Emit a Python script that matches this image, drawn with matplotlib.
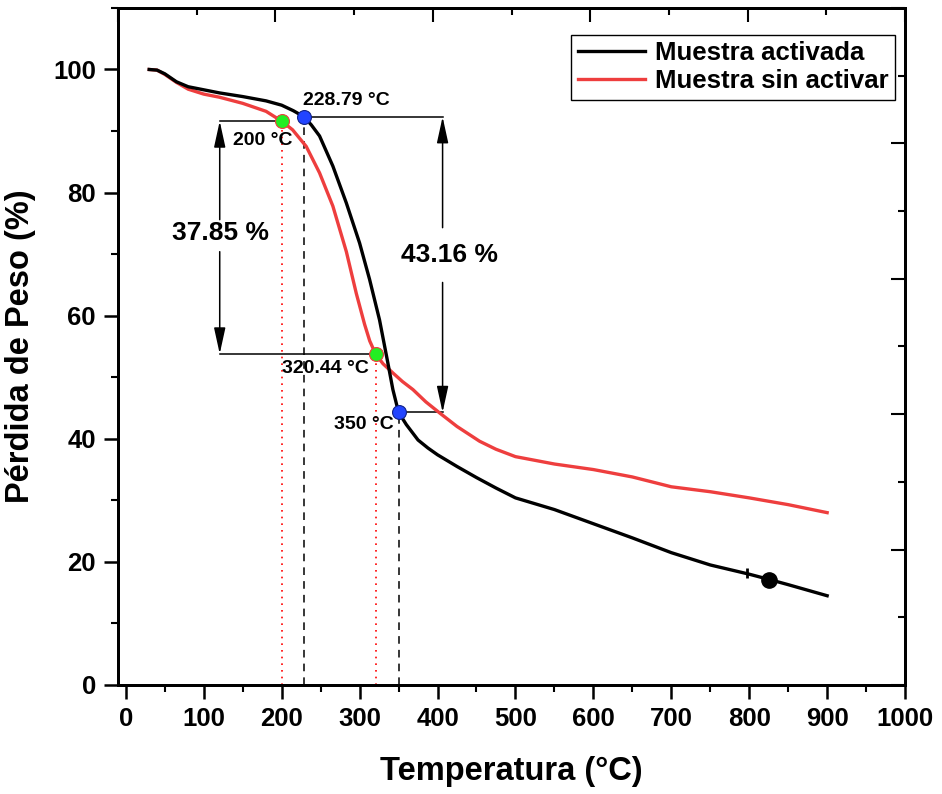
import numpy as np
import matplotlib.pyplot as plt
from matplotlib.ticker import MultipleLocator

plt.rcParams['font.family'] = ['Liberation Sans', 'DejaVu Sans']
plt.rcParams['font.weight'] = 'bold'
plt.rcParams['axes.labelweight'] = 'bold'

# TGA data
t_act = [30, 40, 50, 65, 80, 100, 120, 150, 180, 200, 215, 228.79, 238, 248.6, 265.7,
         283, 300, 312.8, 325.6, 336.3, 342.7, 350, 360, 375, 387.7, 400, 425, 450, 475,
         500, 550, 600, 650, 700, 750, 800, 827, 850, 900]
w_act = [100, 99.9, 99.3, 98.0, 97.2, 96.7, 96.2, 95.6, 94.9, 94.2, 93.3, 92.3, 91.0, 89.2, 84.3,
         78.3, 71.8, 65.9, 59.3, 52.3, 48.0, 44.3, 42.3, 39.8, 38.5, 37.4, 35.5, 33.7, 32.0,
         30.4, 28.5, 26.2, 23.9, 21.5, 19.5, 18.0, 17.1, 16.3, 14.5]

t_sin = [30, 40, 50, 65, 80, 100, 120, 150, 180, 200, 214, 231.5, 248.6, 265.7, 283,
         295.8, 306.4, 313, 320.44, 330, 342.7, 355, 368.4, 385, 402.7, 425, 454, 475,
         500, 550, 600, 650, 700, 750, 800, 850, 900]
w_sin = [100, 99.9, 99.2, 97.9, 96.8, 96.0, 95.5, 94.5, 93.2, 91.6, 90.2, 87.5, 83.2, 77.8, 70.4,
         63.6, 58.6, 55.9, 53.8, 52.2, 50.7, 49.3, 48.0, 46.0, 44.2, 42.0, 39.6, 38.3,
         37.1, 35.9, 35.0, 33.8, 32.2, 31.4, 30.4, 29.3, 28.0]

# onset / end points
act_pts_t = [228.79, 350]
act_pts_w = [92.3, 44.3]
sin_pts_t = [200, 320.44]
sin_pts_w = [91.6, 53.8]
loss_act = '43.16 %'
loss_sin = '37.85 %'

red = '#EE3E3E'

fig = plt.figure(figsize=(9.42, 7.94), dpi=100)
ax = fig.add_axes([0.1253, 0.1373, 0.8355, 0.8527])

ax.plot(t_act, w_act, color='black', lw=2.4, label='Muestra activada', solid_joinstyle='round', zorder=4)
ax.plot(t_sin, w_sin, color=red, lw=2.4, label='Muestra sin activar', solid_joinstyle='round', zorder=3)
ax.plot([825.5], [17.1], 'o', color='black', ms=11, zorder=5)
ax.plot([796.6], [18.2], '|', color='black', ms=7, mew=2, zorder=5)

# vertical guides
for t, w in zip(act_pts_t, act_pts_w):
    ax.plot([t, t], [0, w], color='black', lw=1.1, ls=(0, (5, 4)), zorder=2)
for t, w in zip(sin_pts_t, sin_pts_w):
    ax.plot([t, t], [0, w], color='red', lw=1.2, ls=(0, (1, 3)), zorder=2)

# horizontal guides
x_left = 120.5
x_right = 406.5
ax.plot([x_left, sin_pts_t[0]], [sin_pts_w[0]] * 2, color='black', lw=1.1, zorder=2)
ax.plot([x_left, sin_pts_t[1]], [sin_pts_w[1]] * 2, color='black', lw=1.1, zorder=2)
ax.plot([act_pts_t[0], x_right], [act_pts_w[0]] * 2, color='black', lw=1.1, zorder=2)
ax.plot([act_pts_t[1], x_right], [act_pts_w[1]] * 2, color='black', lw=1.1, zorder=2)

arrow = dict(arrowstyle='-|>,head_length=1.6,head_width=0.35', color='black', lw=1.1,
             shrinkA=0, shrinkB=0)
ax.annotate('', xy=(x_left, sin_pts_w[0]), xytext=(x_left, 75.6), arrowprops=arrow)
ax.annotate('', xy=(x_left, sin_pts_w[1]), xytext=(x_left, 70.4), arrowprops=arrow)
ax.annotate('', xy=(x_right, act_pts_w[0]), xytext=(x_right, 74.3), arrowprops=arrow)
ax.annotate('', xy=(x_right, act_pts_w[1]), xytext=(x_right, 65.4), arrowprops=arrow)

ax.text(121.8, 73.5, loss_sin, fontsize=19, ha='center', va='center')
ax.text(415.6, 69.9, loss_act, fontsize=19, ha='center', va='center')

ax.plot(act_pts_t, act_pts_w, 'o', color='#2244FF', mec='#112288', mew=0.8, ms=10, zorder=6)
ax.plot(sin_pts_t, sin_pts_w, 'o', color='#22EE22', mec=red, mew=0.8, ms=10, zorder=6)

ax.text(227.2, 93.5, '228.79 °C', fontsize=14, ha='left', va='bottom')
ax.text(176, 88.5, '200 °C', fontsize=14, ha='center', va='center')
ax.text(256.5, 51.4, '320.44 °C', fontsize=14, ha='center', va='center')
ax.text(306, 42.4, '350 °C', fontsize=14, ha='center', va='center')

ax.set_xlim(-10, 1000)
ax.set_ylim(0, 110)
ax.set_xticks(np.arange(0, 1001, 100))
ax.set_yticks(np.arange(0, 101, 20))
ax.xaxis.set_minor_locator(MultipleLocator(50))
ax.yaxis.set_minor_locator(MultipleLocator(10))
ax.tick_params(which='major', direction='out', length=10, width=1.8, labelsize=18.5, pad=6)
ax.tick_params(which='minor', direction='out', length=5, width=1.5)
ax.tick_params(top=False, right=False)
for s in ax.spines.values():
    s.set_linewidth(2)

# mirrored frame ticks (inside) on top and right
axt = ax.twiny()
axt.set_xlim(-10, 1000)
axt.set_xticks(np.linspace(-10, 1000, 6))
axt.set_xticks(np.linspace(-10, 1000, 11)[1::2], minor=True)
axt.tick_params(which='major', direction='in', length=10, width=1.5, labeltop=False)
axt.tick_params(which='minor', direction='in', length=5, width=1.5)
axr = ax.twinx()
axr.set_ylim(0, 110)
axr.set_yticks(np.linspace(0, 110, 6))
axr.set_yticks(np.linspace(0, 110, 11)[1::2], minor=True)
axr.tick_params(which='major', direction='in', length=10, width=1.5, labelright=False)
axr.tick_params(which='minor', direction='in', length=5, width=1.5)
for a in (axt, axr):
    for s in a.spines.values():
        s.set_linewidth(2)

ax.set_xlabel('Temperatura (°C)', fontsize=23.5, fontweight='bold', labelpad=18)
ax.set_ylabel('Pérdida de Peso (%)', fontsize=23.5, fontweight='bold', labelpad=12)

leg = ax.legend(loc='upper right', bbox_to_anchor=(0.987, 0.960), borderaxespad=0,
                fontsize=18.5, fancybox=False, edgecolor='black', framealpha=1,
                handlelength=2.6, handletextpad=0.4, borderpad=0.25, labelspacing=0.15)
leg.get_frame().set_linewidth(1.0)
leg.set_zorder(10)

fig.savefig('out.png', dpi=100)
